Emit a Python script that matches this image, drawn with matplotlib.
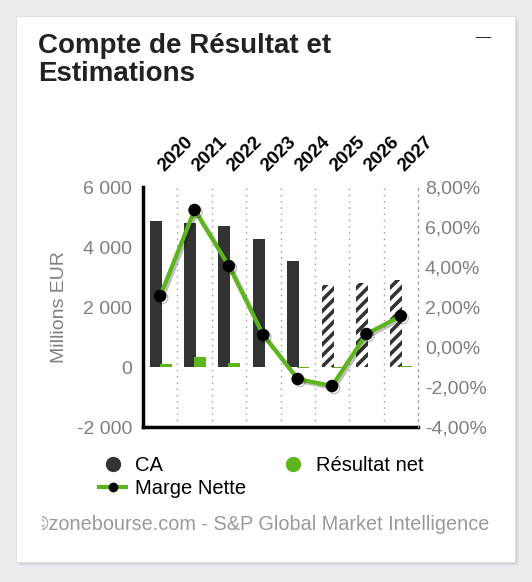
import matplotlib
matplotlib.use('Agg')
import matplotlib.pyplot as plt
import matplotlib.patheffects as pe
from matplotlib.patches import Rectangle
from matplotlib.lines import Line2D
from matplotlib.ticker import FuncFormatter

years = ['2020', '2021', '2022', '2023', '2024', '2025', '2026', '2027']
ca = [4870, 4800, 4700, 4270, 3530, 2730, 2800, 2900]
resultat_net = [100, 330, 150, 0, -30, -20, 0, 20]
marge_nette = [2.55, 6.85, 4.05, 0.6, -1.6, -1.95, 0.65, 1.55]
n_reel = 5  # 2020-2024 publiés, ensuite estimations

dark = '#333333'
green = '#5db51c'
grey = '#7f7f7f'

plt.rcParams['font.family'] = ['Liberation Sans', 'DejaVu Sans']
plt.rcParams['hatch.linewidth'] = 2.6

fig = plt.figure(figsize=(5.32, 5.82), dpi=100)
fig.patch.set_facecolor('#ebebef')

# carte blanche + ombre
W, H = 532, 582
for k, a in enumerate([0.05, 0.07, 0.09]):
    off = 4 - k
    fig.add_artist(Rectangle(((16 + off) / W, 1 - (562 + off) / H), 499 / W, 546 / H,
                             transform=fig.transFigure, color='#808080', alpha=a, lw=0, zorder=-3))
fig.add_artist(Rectangle((16 / W, 1 - 562 / H), 499 / W, 546 / H,
                         transform=fig.transFigure, facecolor='white', edgecolor='#dddddd',
                         lw=0.6, zorder=-2))

fig.text(38 / W, 1 - 33 / H, 'Compte de Résultat et\nEstimations', fontsize=20,
         fontweight='bold', color='#222222', va='top', ha='left', linespacing=1.12)
fig.text(484 / W, 1 - 37 / H, '—', fontsize=11, color='#222222', ha='center', va='center')

ax = fig.add_axes([143 / W, 1 - 427 / H, 275 / W, 240 / H])
ax.set_facecolor('none')
x = list(range(len(years)))

for i in x:
    if i < n_reel:
        ax.bar(i - 0.13, ca[i], width=0.35, color=dark, zorder=2)
    else:
        ax.bar(i - 0.13, ca[i], width=0.35, facecolor='white', edgecolor=dark,
               hatch='///', lw=0, zorder=2)
ax.bar([i + 0.16 for i in x], resultat_net, width=0.35, color=green, zorder=3)

ax.set_xlim(-0.5, len(years) - 0.5)
ax.set_ylim(-2000, 6000)
ax.set_yticks([-2000, 0, 2000, 4000, 6000])
ax.yaxis.set_major_formatter(FuncFormatter(lambda v, p: f'{int(v):,}'.replace(',', ' ')))
ax.set_xticks([])
for b in [i + 0.5 for i in x[:-1]]:
    ax.axvline(b, color='#999999', lw=1, ls=(0, (1, 3.5)), zorder=1)
ax.tick_params(axis='y', length=0, labelsize=14, labelcolor=grey, pad=8)
ax.set_ylabel('Millions EUR', fontsize=14, color=grey, labelpad=6)
for s in ['top', 'right']:
    ax.spines[s].set_visible(False)
ax.spines['left'].set_linewidth(2.5)
ax.spines['bottom'].set_linewidth(2.5)

for i, y in enumerate(years):
    ax.text(i + 0.2, 1.05, y, transform=ax.get_xaxis_transform(), rotation=45,
            rotation_mode='anchor', ha='left', va='bottom', fontsize=13.5,
            fontweight='bold', color='black')

ax2 = ax.twinx()
ax2.set_ylim(-4, 8)
ax2.set_yticks([-4, -2, 0, 2, 4, 6, 8])
ax2.yaxis.set_major_formatter(FuncFormatter(lambda v, p: f'{v:.2f}'.replace('.', ',') + '%'))
ax2.tick_params(axis='y', length=0, labelsize=14, labelcolor=grey, pad=5)
for s in ['top', 'left', 'bottom']:
    ax2.spines[s].set_visible(False)
ax2.spines['right'].set_linestyle((0, (1, 3.5)))
ax2.spines['right'].set_color('#999999')
ax2.spines['right'].set_linewidth(1)
ax2.plot(x, marge_nette, color=green, lw=3, marker='o', markersize=8,
         markerfacecolor='black', markeredgecolor='black', zorder=4,
         path_effects=[pe.SimpleLineShadow(offset=(1.5, -1.5), alpha=0.25), pe.Normal()])

handles = [
    Line2D([], [], ls='none', marker='o', markersize=10, color=dark),
    Line2D([], [], color=green, lw=3, marker='o', markersize=6,
           markerfacecolor='black', markeredgecolor='black'),
    Line2D([], [], ls='none', marker='o', markersize=10, color=green),
]
fig.legend(handles, ['CA', 'Marge Nette', 'Résultat net'], ncol=2, frameon=False,
           loc='upper left', bbox_to_anchor=(81 / W, 1 - 438 / H), fontsize=14.5,
           handlelength=1.35, handletextpad=0.45, columnspacing=1.65, labelspacing=0.2)

ft = fig.text(489 / W, 1 - 525 / H, '©zonebourse.com - S&P Global Market Intelligence',
              fontsize=14.35, color='#999999', ha='right', va='center')
ft.set_clip_path(Rectangle((42 / W, 0), 1, 1, transform=fig.transFigure))

fig.savefig('out.png', dpi=100, facecolor=fig.get_facecolor())
